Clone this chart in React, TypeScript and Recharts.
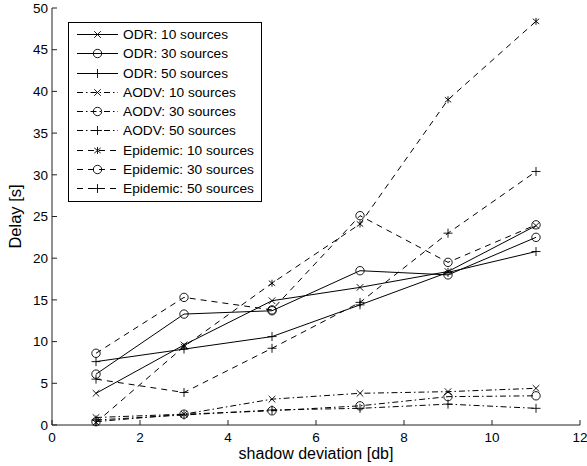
import React from 'react'
import { LineChart, Line, XAxis, YAxis, Legend } from 'recharts'

const shadowDev = [1, 3, 5, 7, 9, 11]

const odr10 = [3.8, 9.6, 14.9, 16.5, 18.4, 23.9]
const odr30 = [6.1, 13.3, 13.7, 18.5, 18.0, 22.5]
const odr50 = [7.6, 9.1, 10.6, 14.4, 18.3, 20.8]
const aodv10 = [0.9, 1.3, 3.1, 3.8, 4.0, 4.4]
const aodv30 = [0.4, 1.3, 1.7, 2.3, 3.4, 3.5]
const aodv50 = [0.6, 1.2, 1.8, 2.0, 2.5, 2.0]
const epi10 = [0.3, 9.4, 17.0, 24.1, 39.0, 48.4]
const epi30 = [8.6, 15.3, 13.8, 25.1, 19.5, 24.0]
const epi50 = [5.5, 3.9, 9.2, 14.7, 23.0, 30.4]

const xTicks = [0, 2, 4, 6, 8, 10, 12]
const yTicks = [0, 5, 10, 15, 20, 25, 30, 35, 40, 45, 50]

const FONT = '"Liberation Sans", Arial, Helvetica, sans-serif'
const SOLID = undefined
const DASHDOT = '6 3 1.5 3'
const DASHED = '6 5'

type Shape = 'x' | 'o' | '+' | '*'

const series: { key: string; name: string; vals: number[]; shape: Shape; dash?: string }[] = [
  { key: 'odr10', name: 'ODR: 10 sources', vals: odr10, shape: 'x', dash: SOLID },
  { key: 'odr30', name: 'ODR: 30 sources', vals: odr30, shape: 'o', dash: SOLID },
  { key: 'odr50', name: 'ODR: 50 sources', vals: odr50, shape: '+', dash: SOLID },
  { key: 'aodv10', name: 'AODV: 10 sources', vals: aodv10, shape: 'x', dash: DASHDOT },
  { key: 'aodv30', name: 'AODV: 30 sources', vals: aodv30, shape: 'o', dash: DASHDOT },
  { key: 'aodv50', name: 'AODV: 50 sources', vals: aodv50, shape: '+', dash: DASHDOT },
  { key: 'epi10', name: 'Epidemic: 10 sources', vals: epi10, shape: '*', dash: DASHED },
  { key: 'epi30', name: 'Epidemic: 30 sources', vals: epi30, shape: 'o', dash: DASHED },
  { key: 'epi50', name: 'Epidemic: 50 sources', vals: epi50, shape: '+', dash: DASHED },
]

const data = shadowDev.map((x, i) => {
  const row: Record<string, number> = { x }
  series.forEach((s) => {
    row[s.key] = s.vals[i]
  })
  return row
})

function Marker({ cx, cy, shape }: { cx: number; cy: number; shape: Shape }) {
  const st = { stroke: '#000', strokeWidth: 0.9, fill: 'none' }
  if (shape === 'o') return <circle cx={cx} cy={cy} r={4.2} {...st} />
  if (shape === '+')
    return (
      <g {...st}>
        <line x1={cx - 4.5} y1={cy} x2={cx + 4.5} y2={cy} />
        <line x1={cx} y1={cy - 4.5} x2={cx} y2={cy + 4.5} />
      </g>
    )
  if (shape === '*')
    return (
      <g {...st}>
        <line x1={cx - 3.2} y1={cy - 2.6} x2={cx + 3.2} y2={cy + 2.6} />
        <line x1={cx - 3.2} y1={cy + 2.6} x2={cx + 3.2} y2={cy - 2.6} />
        <line x1={cx} y1={cy - 3.5} x2={cx} y2={cy + 3.5} />
      </g>
    )
  return (
    <g {...st}>
      <line x1={cx - 3.3} y1={cy - 3.3} x2={cx + 3.3} y2={cy + 3.3} />
      <line x1={cx - 3.3} y1={cy + 3.3} x2={cx + 3.3} y2={cy - 3.3} />
    </g>
  )
}

const dotFor = (shape: Shape) => (p: any) =>
  <Marker key={`${shape}-${p.index}`} cx={p.cx} cy={p.cy} shape={shape} />

function LegendBox() {
  return (
    <div
      style={{
        width: 192,
        height: 176,
        border: '1px solid #000',
        background: '#fff',
        fontFamily: FONT,
        fontSize: 13.7,
        color: '#000',
        paddingTop: 2,
        boxSizing: 'content-box',
      }}
    >
      {series.map((s) => (
        <div key={s.key} style={{ display: 'flex', alignItems: 'center', height: 19.25 }}>
          <svg width={54} height={19} style={{ flex: 'none' }}>
            <line x1={8} y1={9.5} x2={49} y2={9.5} stroke="#000" strokeWidth={1} strokeDasharray={s.dash} />
            <Marker cx={28.5} cy={9.5} shape={s.shape} />
          </svg>
          <span style={{ whiteSpace: 'nowrap' }}>{s.name}</span>
        </div>
      ))}
    </div>
  )
}

export default function App() {
  return (
    <div style={{ position: 'absolute', left: 0, top: 0, background: '#fff' }}>
      <LineChart width={587} height={466} data={data} margin={{ top: 8, right: 7, bottom: 0, left: 0 }}>
        <XAxis
          dataKey="x"
          type="number"
          domain={[0, 12]}
          ticks={xTicks}
          height={41}
          tickSize={-5}
          tickMargin={12}
          axisLine={{ stroke: '#222' }}
          tickLine={{ stroke: '#222' }}
          tick={{ fontSize: 13.5, fill: '#000', fontFamily: FONT }}
          label={{
            value: 'shadow deviation [db]',
            position: 'insideBottom',
            offset: 7,
            style: { fontSize: 16, fill: '#000', fontFamily: FONT },
          }}
        />
        <YAxis
          type="number"
          domain={[0, 50]}
          ticks={yTicks}
          width={52}
          tickSize={-5}
          tickMargin={9}
          axisLine={{ stroke: '#222' }}
          tickLine={{ stroke: '#222' }}
          tick={{ fontSize: 13.5, fill: '#000', fontFamily: FONT }}
          label={{
            value: 'Delay [s]',
            angle: -90,
            position: 'center',
            dx: -10.5,
            style: { fontSize: 16.5, fill: '#000', fontFamily: FONT, textAnchor: 'middle' },
          }}
        />
        <Legend
          layout="vertical"
          align="center"
          verticalAlign="middle"
          wrapperStyle={{ left: 68, top: 22, width: 194, height: 178 }}
          content={() => <LegendBox />}
        />
        {series.map((s) => (
          <Line
            key={s.key}
            type="linear"
            dataKey={s.key}
            name={s.name}
            stroke="#000"
            strokeWidth={1}
            strokeDasharray={s.dash}
            dot={dotFor(s.shape)}
            activeDot={false}
            isAnimationActive={false}
          />
        ))}
      </LineChart>
    </div>
  )
}
